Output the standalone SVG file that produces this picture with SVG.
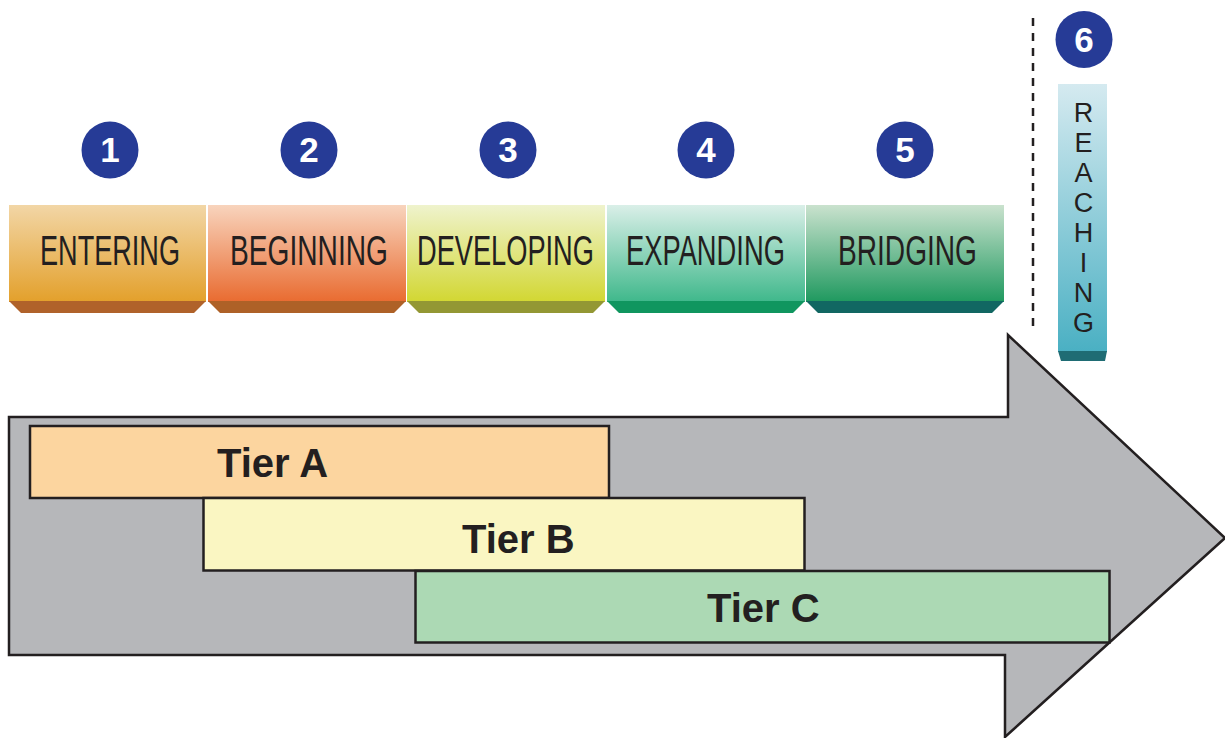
<svg xmlns="http://www.w3.org/2000/svg" width="1225" height="738" viewBox="0 0 1225 738">
<style>
.num{font-family:"Liberation Sans",Arial,sans-serif;font-weight:bold;font-size:35px;fill:#fff;text-anchor:middle}
.badge{fill:#263b96}
.stage{font-family:"Liberation Sans",Arial,sans-serif;fill:#231f20}
.tier{font-family:"Liberation Sans",Arial,sans-serif;font-weight:bold;font-size:40px;fill:#231f20}
.tbox{stroke:#231f20;stroke-width:2.5}
.reach{font-family:"Liberation Sans",Arial,sans-serif;font-size:27px;fill:#231f20;text-anchor:middle}
</style>
<defs>
<linearGradient id="g1" x1="0" y1="0" x2="0" y2="1"><stop offset="0" stop-color="#f2d6a6"/><stop offset="1" stop-color="#e3a02b"/></linearGradient>
<linearGradient id="g2" x1="0" y1="0" x2="0" y2="1"><stop offset="0" stop-color="#f8d4bd"/><stop offset="1" stop-color="#e96b30"/></linearGradient>
<linearGradient id="g3" x1="0" y1="0" x2="0" y2="1"><stop offset="0" stop-color="#eff3cd"/><stop offset="1" stop-color="#d2d732"/></linearGradient>
<linearGradient id="g4" x1="0" y1="0" x2="0" y2="1"><stop offset="0" stop-color="#daefe8"/><stop offset="1" stop-color="#3fb88b"/></linearGradient>
<linearGradient id="g5" x1="0" y1="0" x2="0" y2="1"><stop offset="0" stop-color="#cae2ce"/><stop offset="1" stop-color="#1f995f"/></linearGradient>
<linearGradient id="g6" x1="0" y1="0" x2="0" y2="1"><stop offset="0" stop-color="#d5eaf0"/><stop offset="1" stop-color="#4ab0c3"/></linearGradient>
</defs>

<g id="arrow">
<polygon points="9,417 1008,417 1008,335 1225,538 1005,737 1005,655 9,655" fill="#b6b7ba" stroke="#231f20" stroke-width="2.5" stroke-linejoin="miter"/>
</g>

<g id="connectors">
<line x1="1033" y1="18" x2="1033" y2="330" stroke="#231f20" stroke-width="2.5" stroke-dasharray="8,7"/>
</g>

<g id="stage1">
<circle class="badge" cx="110" cy="150" r="28.5"/>
<text class="num" x="110" y="162">1</text>
<rect x="9" y="205" width="197" height="97" fill="url(#g1)"/>
<polygon points="9,301 206,301 194,313 21,313" fill="#b0622a"/>
<text class="stage" font-size="27.1" transform="translate(40,265) scale(1,1.55)">ENTERING</text>
</g>

<g id="stage2">
<circle class="badge" cx="309" cy="150" r="28.5"/>
<text class="num" x="309" y="162">2</text>
<rect x="208" y="205" width="198" height="97" fill="url(#g2)"/>
<polygon points="208,301 406,301 394,313 220,313" fill="#ae6127"/>
<text class="stage" font-size="28.15" transform="translate(230,265) scale(1,1.492)">BEGINNING</text>
</g>

<g id="stage3">
<circle class="badge" cx="508" cy="150" r="28.5"/>
<text class="num" x="508" y="162">3</text>
<rect x="407" y="205" width="198" height="97" fill="url(#g3)"/>
<polygon points="407,301 605,301 593,313 419,313" fill="#939734"/>
<text class="stage" font-size="27.22" transform="translate(417,265) scale(1,1.543)">DEVELOPING</text>
</g>

<g id="stage4">
<circle class="badge" cx="706" cy="150" r="28.5"/>
<text class="num" x="706" y="162">4</text>
<rect x="607" y="205" width="198" height="97" fill="url(#g4)"/>
<polygon points="607,301 805,301 793,313 619,313" fill="#10965f"/>
<text class="stage" font-size="27.33" transform="translate(626,265) scale(1,1.537)">EXPANDING</text>
</g>

<g id="stage5">
<circle class="badge" cx="905" cy="150" r="28.5"/>
<text class="num" x="905" y="162">5</text>
<rect x="806" y="205" width="198" height="97" fill="url(#g5)"/>
<polygon points="806,301 1004,301 992,313 818,313" fill="#116762"/>
<text class="stage" font-size="28.11" transform="translate(838,265) scale(1,1.494)">BRIDGING</text>
</g>

<g id="stage6">
<circle class="badge" cx="1084" cy="39.5" r="28.5"/>
<text class="num" x="1084" y="51.5">6</text>
<rect x="1058" y="84" width="49" height="268" fill="url(#g6)"/>
<polygon points="1058,351 1107,351 1105,361 1061,361" fill="#1f6c74"/>
<text class="reach" x="1083.5" y="121.7">R</text>
<text class="reach" x="1083.5" y="151.7">E</text>
<text class="reach" x="1083.5" y="181.7">A</text>
<text class="reach" x="1083.5" y="211.7">C</text>
<text class="reach" x="1083.5" y="241.7">H</text>
<text class="reach" x="1083.5" y="271.7">I</text>
<text class="reach" x="1083.5" y="301.7">N</text>
<text class="reach" x="1083.5" y="331.7">G</text>
</g>

<g id="tierA">
<rect class="tbox" x="30" y="426" width="579" height="72" fill="#fcd59f"/>
<text class="tier" x="217" y="477">Tier A</text>
</g>
<g id="tierB">
<rect class="tbox" x="203.5" y="498" width="601" height="72.5" fill="#faf6c2"/>
<text class="tier" x="462" y="553">Tier B</text>
</g>
<g id="tierC">
<rect class="tbox" x="415.5" y="571" width="694" height="71.5" fill="#acd9b4"/>
<text class="tier" x="707" y="622">Tier C</text>
</g>
</svg>
